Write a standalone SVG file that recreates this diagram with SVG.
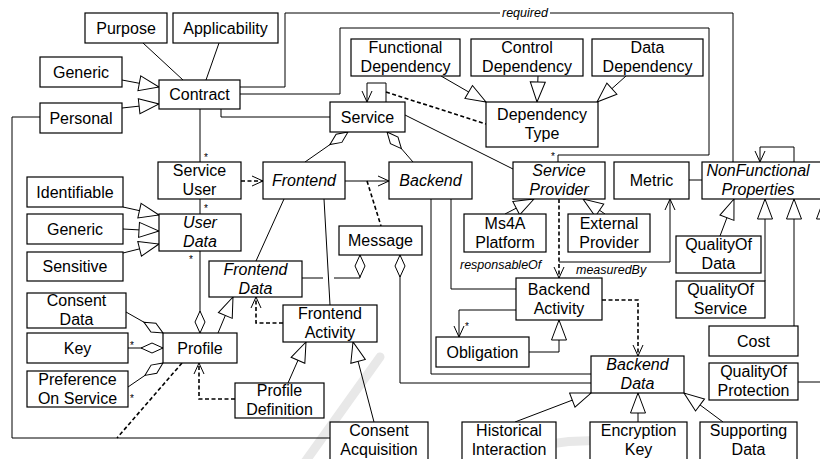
<svg xmlns="http://www.w3.org/2000/svg" width="820" height="459" viewBox="0 0 820 459">
<style>
.n rect{fill:#fff;stroke:#000;stroke-width:1.2}
.n text,.lb{font-family:"Liberation Sans",Arial,sans-serif;font-size:16px;fill:#000;text-anchor:middle}
.i text{font-style:italic}
.c path{fill:none;stroke:#000;stroke-width:1}
.c .d{stroke-dasharray:4 2.5;stroke-width:1.6}
.g{marker-end:url(#tri)}
.a{marker-end:url(#arr)}
.m{marker-end:url(#dia)}
.lb{font-size:12.5px;font-style:italic;text-anchor:start}
.st{font-family:"Liberation Sans",Arial,sans-serif;font-size:10px;text-anchor:start}
</style>
<defs>
<marker id="tri" markerUnits="userSpaceOnUse" viewBox="-1 -1 22 17" markerWidth="22" markerHeight="17" refX="20" refY="7.5" orient="auto"><path d="M0,0 L20,7.5 L0,15 Z" fill="#fff" stroke="#000" stroke-width="1"/></marker>
<marker id="arr" markerUnits="userSpaceOnUse" viewBox="-1 -1 13 12" markerWidth="13" markerHeight="12" refX="11" refY="5" orient="auto"><path d="M0,0 L11,5 L0,10" fill="none" stroke="#000" stroke-width="1"/></marker>
<marker id="dia" markerUnits="userSpaceOnUse" viewBox="-1 -1 24 12" markerWidth="24" markerHeight="12" refX="22" refY="5" orient="auto"><path d="M0,5 L11,0 L22,5 L11,10 Z" fill="#fff" stroke="#000" stroke-width="1"/></marker>
</defs>
<rect width="820" height="459" fill="#fff"/>
<g id="watermark" fill="none" stroke="#e8e8e8" stroke-width="9" stroke-linecap="round">
<path d="M305,462 L380,357"/>
<path d="M505,456 Q570,432 640,446"/>
</g>
<g id="connectors" class="c">
<path d="M143,43 L183,80"/>
<path d="M219,43 L206,80"/>
<path class="g" d="M122,80 L159,87"/>
<path class="g" d="M122,108 L159,104"/>
<path d="M240,87 H285 V13 H500 M550,13 H733 V162"/>
<path d="M240,94 H340 V28 H709 V155 H558 V162"/>
<path d="M221,109 V117 H330"/>
<path d="M200,109 V162"/>
<path d="M40,117 H12 V438 H330"/>
<path class="d" d="M182,363 L117,438"/>
<path class="a" d="M386,102 V83 H367 V102"/>
<path class="d" d="M386,92 L486,124"/>
<path class="g" d="M441,76 L486,102"/>
<path class="g" d="M538,76 L537,102"/>
<path class="g" d="M626,76 L597,102"/>
<path d="M405,115 L513,169"/>
<path class="m" d="M305,162 L348,132"/>
<path class="m" d="M413,162 L387,132"/>
<path class="d a" d="M241,181 H263"/>
<path class="a" d="M345,181 H389"/>
<path class="d" d="M367,181 L381,226"/>
<path d="M200,199 V214"/>
<path class="m" d="M200,251 V333"/>
<path class="g" d="M123,207 L159,215"/>
<path class="g" d="M123,229 L159,231"/>
<path class="g" d="M123,253 L159,244"/>
<path d="M284,199 L256,261"/>
<path d="M324,199 L330,305"/>
<path class="m" d="M302,278 H323 M334,278 H360 V255"/>
<path class="m" d="M591,383 H400 V255"/>
<path d="M431,199 V374 H591"/>
<path d="M451,199 V289 H516"/>
<path class="d a" d="M559,199 V278"/>
<path class="a" d="M559,262 H670 V199"/>
<path class="g" d="M505,214 L534,199"/>
<path class="g" d="M605,214 L583,199"/>
<path d="M689,180 H702"/>
<path class="a" d="M794,162 V147 H760 V162"/>
<path class="g" d="M720,236 L734,199"/>
<path class="g" d="M765,281 V199"/>
<path class="g" d="M794,326 V199"/>
<path class="g" d="M798,382 H824 V199"/>
<path class="g" d="M218,333 L233,297"/>
<path class="m" d="M126,312 L163,333"/>
<path class="m" d="M128,348 H163"/>
<path class="m" d="M128,387 L163,363"/>
<path class="d a" d="M235,399 H199 V363"/>
<path class="d a" d="M283,323 H256 V297"/>
<path class="g" d="M288,383 L306,342"/>
<path class="g" d="M374,422 L353,342"/>
<path class="a" d="M516,310 H459 V337"/>
<path class="g" d="M529,352 H559 V320"/>
<path class="d a" d="M602,300 H638 V356"/>
<path class="g" d="M515,422 L591,393"/>
<path class="g" d="M638,422 V393"/>
<path class="g" d="M723,422 L684,393"/>
</g>
<g id="labels">
<text class="lb" x="502" y="17">required</text>
<text class="lb" x="460" y="269">responsableOf</text>
<text class="lb" x="576" y="274">measuredBy</text>
<text class="st" x="551" y="160">*</text>
<text class="st" x="204" y="161">*</text>
<text class="st" x="204" y="212">*</text>
<text class="st" x="189" y="263">*</text>
<text class="st" x="130" y="349">*</text>
<text class="st" x="130" y="402">*</text>
<text class="st" x="465" y="330">*</text>
</g>
<g id="purpose" class="n"><rect x="85" y="13" width="82" height="30"/><text x="126" y="33.5">Purpose</text></g>
<g id="applicability" class="n"><rect x="173" y="13" width="105" height="30"/><text x="225.5" y="33.5">Applicability</text></g>
<g id="generic-contract" class="n"><rect x="40" y="57" width="82" height="30"/><text x="81" y="77.5">Generic</text></g>
<g id="personal" class="n"><rect x="40" y="103" width="82" height="30"/><text x="81" y="123.5">Personal</text></g>
<g id="contract" class="n"><rect x="159" y="80" width="81" height="29"/><text x="199.5" y="100">Contract</text></g>
<g id="service" class="n"><rect x="330" y="102" width="75" height="30"/><text x="367.5" y="122.5">Service</text></g>
<g id="functional-dependency" class="n"><rect x="351" y="39" width="109" height="37"/><text x="405.5" y="53">Functional</text><text x="405.5" y="72">Dependency</text></g>
<g id="control-dependency" class="n"><rect x="471" y="39" width="112" height="37"/><text x="527" y="53">Control</text><text x="527" y="72">Dependency</text></g>
<g id="data-dependency" class="n"><rect x="592" y="39" width="111" height="37"/><text x="647.5" y="53">Data</text><text x="647.5" y="72">Dependency</text></g>
<g id="dependency-type" class="n"><rect x="486" y="102" width="112" height="45"/><text x="542" y="120">Dependency</text><text x="542" y="139">Type</text></g>
<g id="service-user" class="n"><rect x="158" y="162" width="83" height="37"/><text x="199.5" y="176">Service</text><text x="199.5" y="195">User</text></g>
<g id="frontend" class="n i"><rect x="263" y="162" width="82" height="37"/><text x="304" y="186">Frontend</text></g>
<g id="backend" class="n i"><rect x="389" y="162" width="83" height="37"/><text x="430.5" y="186">Backend</text></g>
<g id="service-provider" class="n i"><rect x="513" y="162" width="92" height="37"/><text x="559" y="176">Service</text><text x="559" y="195">Provider</text></g>
<g id="metric" class="n"><rect x="614" y="162" width="75" height="37"/><text x="651.5" y="186">Metric</text></g>
<g id="nonfunctional-properties" class="n i"><rect x="702" y="162" width="125" height="37"/><text x="758" y="176">NonFunctional</text><text x="758" y="195">Properties</text></g>
<g id="identifiable" class="n"><rect x="27" y="177" width="96" height="30"/><text x="75" y="197.5">Identifiable</text></g>
<g id="generic-user" class="n"><rect x="27" y="214" width="96" height="30"/><text x="75" y="234.5">Generic</text></g>
<g id="sensitive" class="n"><rect x="27" y="252" width="96" height="29"/><text x="75" y="272">Sensitive</text></g>
<g id="user-data" class="n i"><rect x="159" y="214" width="82" height="37"/><text x="200" y="228">User</text><text x="200" y="247">Data</text></g>
<g id="message" class="n"><rect x="339" y="226" width="83" height="29"/><text x="380.5" y="246">Message</text></g>
<g id="ms4a-platform" class="n"><rect x="464" y="214" width="82" height="38"/><text x="505" y="228.5">Ms4A</text><text x="505" y="247.5">Platform</text></g>
<g id="external-provider" class="n"><rect x="568" y="214" width="82" height="38"/><text x="609" y="228.5">External</text><text x="609" y="247.5">Provider</text></g>
<g id="quality-of-data" class="n"><rect x="676" y="236" width="85" height="37"/><text x="718.5" y="250">QualityOf</text><text x="718.5" y="269">Data</text></g>
<g id="quality-of-service" class="n"><rect x="676" y="281" width="89" height="37"/><text x="720.5" y="295">QualityOf</text><text x="720.5" y="314">Service</text></g>
<g id="frontend-data" class="n i"><rect x="209" y="261" width="93" height="36"/><text x="255.5" y="274.5">Frontend</text><text x="255.5" y="293.5">Data</text></g>
<g id="backend-activity" class="n"><rect x="516" y="278" width="86" height="42"/><text x="559" y="294.5">Backend</text><text x="559" y="313.5">Activity</text></g>
<g id="consent-data" class="n"><rect x="27" y="293" width="99" height="35"/><text x="76.5" y="306">Consent</text><text x="76.5" y="325">Data</text></g>
<g id="key" class="n"><rect x="27" y="333" width="101" height="30"/><text x="77.5" y="353.5">Key</text></g>
<g id="preference-on-service" class="n"><rect x="27" y="371" width="101" height="36"/><text x="77.5" y="384.5">Preference</text><text x="77.5" y="403.5">On Service</text></g>
<g id="profile" class="n"><rect x="163" y="333" width="74" height="30"/><text x="200" y="353.5">Profile</text></g>
<g id="frontend-activity" class="n"><rect x="283" y="305" width="94" height="37"/><text x="330" y="319">Frontend</text><text x="330" y="338">Activity</text></g>
<g id="obligation" class="n"><rect x="436" y="337" width="93" height="30"/><text x="482.5" y="357.5">Obligation</text></g>
<g id="cost" class="n"><rect x="709" y="326" width="89" height="30"/><text x="753.5" y="346.5">Cost</text></g>
<g id="profile-definition" class="n"><rect x="235" y="383" width="89" height="35"/><text x="279.5" y="396">Profile</text><text x="279.5" y="415">Definition</text></g>
<g id="backend-data" class="n i"><rect x="591" y="356" width="93" height="37"/><text x="637.5" y="370">Backend</text><text x="637.5" y="389">Data</text></g>
<g id="quality-of-protection" class="n"><rect x="709" y="363" width="89" height="37"/><text x="753.5" y="377">QualityOf</text><text x="753.5" y="396">Protection</text></g>
<g id="consent-acquisition" class="n"><rect x="330" y="422" width="98" height="42"/><text x="379" y="435.5">Consent</text><text x="379" y="454.5">Acquisition</text></g>
<g id="historical-interaction" class="n"><rect x="462" y="422" width="94" height="42"/><text x="509" y="435.5">Historical</text><text x="509" y="454.5">Interaction</text></g>
<g id="encryption-key" class="n"><rect x="590" y="422" width="97" height="42"/><text x="638.5" y="435.5">Encryption</text><text x="638.5" y="454.5">Key</text></g>
<g id="supporting-data" class="n"><rect x="700" y="422" width="97" height="42"/><text x="748.5" y="435.5">Supporting</text><text x="748.5" y="454.5">Data</text></g>
</svg>
